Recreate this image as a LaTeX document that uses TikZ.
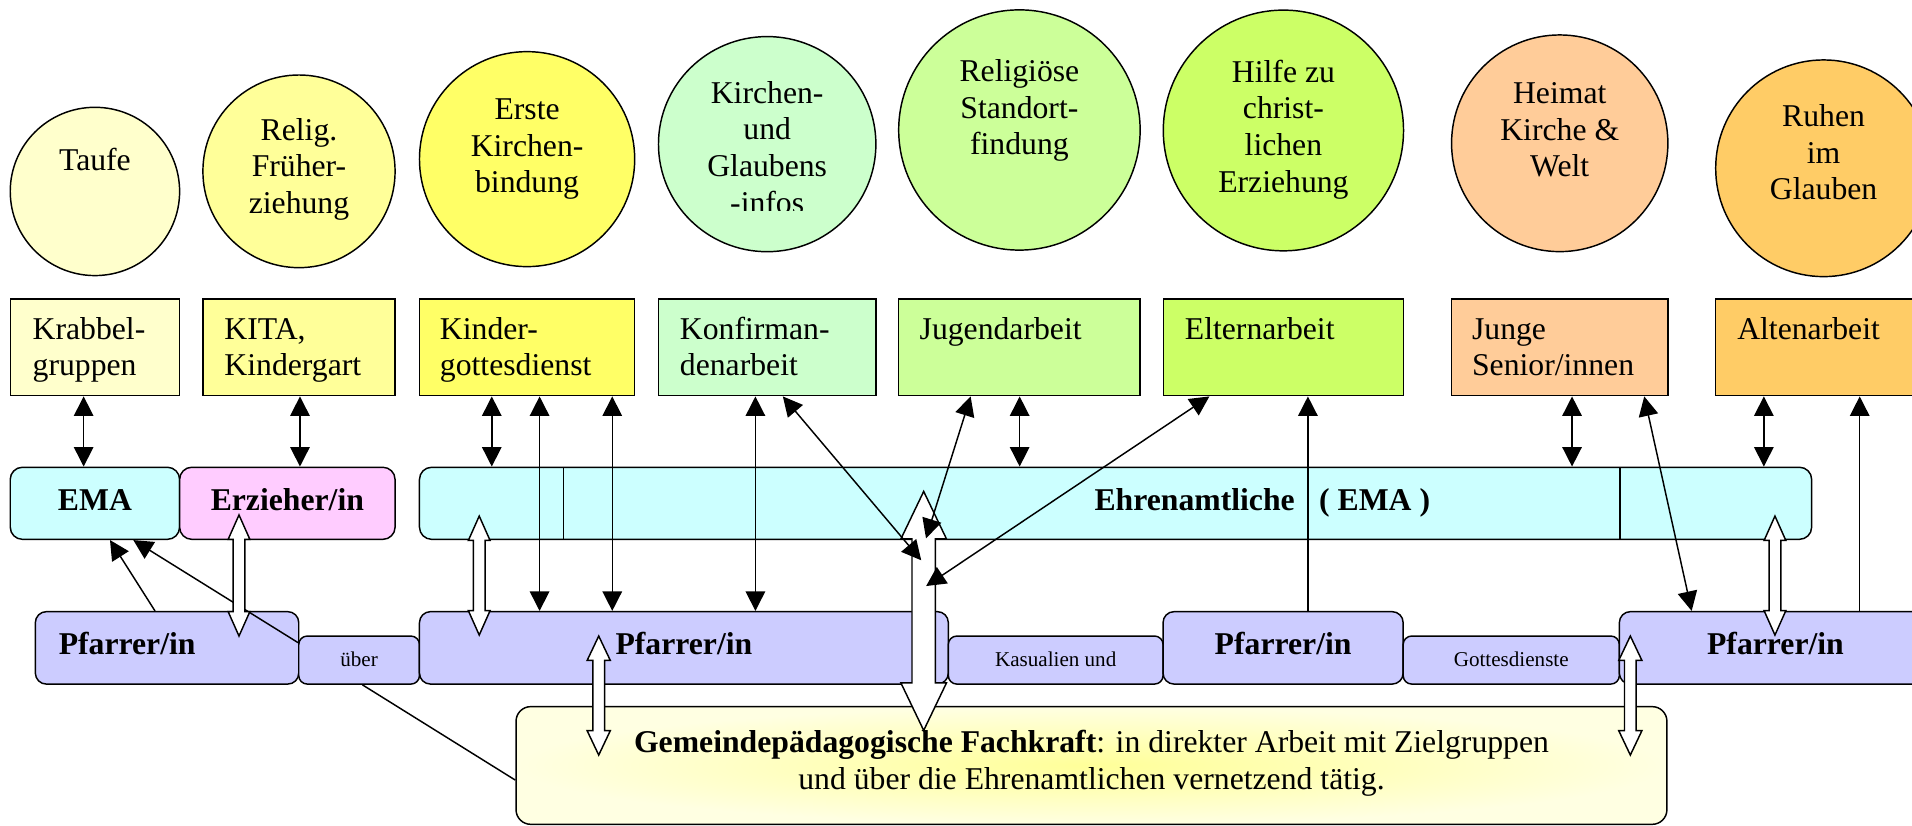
\documentclass[tikz,border=0pt]{standalone}
\usepackage{fontspec}
\setmainfont{Liberation Serif}
\usetikzlibrary{shapes.geometric,arrows.meta,calc}

\definecolor{cA}{HTML}{FFFFCC}
\definecolor{cB}{HTML}{FFFF99}
\definecolor{cC}{HTML}{FFFF66}
\definecolor{cD}{HTML}{CCFFCC}
\definecolor{cE}{HTML}{CCFF99}
\definecolor{cF}{HTML}{CCFF66}
\definecolor{cG}{HTML}{FFCC99}
\definecolor{cH}{HTML}{FFCC66}
\definecolor{cyanbox}{HTML}{CCFFFF}
\definecolor{pinkbox}{HTML}{FFCCFF}
\definecolor{lilabox}{HTML}{CCCCFF}
\definecolor{yelout}{HTML}{FFFFE2}

\newcommand\bigtxt{\fontsize{26}{30}\selectfont}
\newcommand\smalltxt{\fontsize{17.3}{20}\selectfont}
\newcommand\ctr[1]{\parbox[t]{230pt}{\centering\bigtxt #1}}
\newcommand\lft[1]{\parbox[t]{200pt}{\raggedright\bigtxt #1}}
% white double block arrow: x, ytop, ybot, halfshaft, halfhead, headlen
\newcommand\wdblarrow[6]{%
  \draw[blockarrow] (#1,#2) -- ({#1+#5},{#2+#6}) -- ({#1+#4},{#2+#6})
    -- ({#1+#4},{#3-#6}) -- ({#1+#5},{#3-#6}) -- (#1,#3)
    -- ({#1-#5},{#3-#6}) -- ({#1-#4},{#3-#6}) -- ({#1-#4},{#2+#6})
    -- ({#1-#5},{#2+#6}) -- cycle;}

\begin{document}
\begin{tikzpicture}[x=1pt,y=-1pt,line width=1.2pt,
  circ/.style={ellipse,draw,inner sep=0pt},
  rbox/.style={rectangle,draw,inner sep=0pt,minimum height=79.3pt},
  midbox/.style={rectangle,draw,rounded corners=10pt,inner sep=0pt,minimum height=59.1pt},
  pbox/.style={rectangle,draw,fill=lilabox,rounded corners=9pt,inner sep=0pt,minimum height=59.4pt},
  sbox/.style={rectangle,draw,fill=lilabox,rounded corners=7pt,inner sep=0pt,minimum height=39.4pt},
  txt/.style={inner sep=0pt},
  btxt/.style={inner sep=0pt,font=\bigtxt\bfseries},
  stxt/.style={inner sep=0pt,font=\smalltxt,anchor=base},
  tip/.style={Triangle[width=16pt,length=16pt]},
  dbl/.style={{Triangle[width=16pt,length=16pt]}-{Triangle[width=16pt,length=16pt]}},
  sgl/.style={-{Triangle[width=16pt,length=16pt]}},
  plain/.style={-},
  blockarrow/.style={draw,fill=white,line width=1.2pt,line join=miter},
  divider/.style={line width=1.2pt}]

\useasboundingbox (0,0) rectangle (1568,677);
\clip (0,0) rectangle (1568,677);

% ---------- ellipses ----------
\node[circ,fill=cA,minimum width=138.9pt,minimum height=138pt] (eTa) at (77.85,157) {};
\node[circ,fill=cB,minimum width=157.6pt,minimum height=158pt] (eRe) at (245.2,140.5) {};
\node[circ,fill=cC,minimum width=176.5pt,minimum height=176.3pt] (eEr) at (432.25,130.5) {};
\node[circ,fill=cD,minimum width=178.3pt,minimum height=176.4pt] (eKi) at (629.15,118.2) {};
\node[circ,fill=cE,minimum width=198pt,minimum height=197pt] (eRS) at (836,106.6) {};
\node[circ,fill=cF,minimum width=197pt,minimum height=197.4pt] (eHi) at (1052.5,107) {};
\node[circ,fill=cG,minimum width=177.4pt,minimum height=177.7pt] (eHe) at (1279.1,117.5) {};
\node[circ,fill=cH,minimum width=177pt,minimum height=177.7pt] (eRu) at (1495.5,138) {};

\node[txt,anchor=base] (tTa) at (77.85,139.5) {\ctr{Taufe}};
\node[txt,anchor=base] (tRe) at (245.2,115) {\ctr{Relig.\\Früher-\\ziehung}};
\node[txt,anchor=base] (tEr) at (432.25,98) {\ctr{Erste\\Kirchen-\\bindung}};
\begin{scope}
  \clip (540,0) rectangle (720,172.5);
  \node[txt,anchor=base] (tKi) at (629.15,84.7) {\ctr{Kirchen-\\und\\Glaubens\\-infos}};
\end{scope}
\node[txt,anchor=base] (tRS) at (836,67) {\ctr{Religiöse\\Standort-\\findung}};
\node[txt,anchor=base] (tHi) at (1052.5,67.5) {\ctr{Hilfe zu\\christ-\\lichen\\Erziehung}};
\node[txt,anchor=base] (tHe) at (1279.1,85) {\ctr{Heimat\\Kirche \&\\Welt}};
\node[txt,anchor=base] (tRu) at (1495.5,104) {\ctr{Ruhen\\im\\Glauben}};

% ---------- rectangles ----------
\node[rbox,fill=cA,minimum width=138.9pt] (rKr) at (77.85,284.85) {};
\node[rbox,fill=cB,minimum width=157.6pt] (rKi) at (245.2,284.85) {};
\node[rbox,fill=cC,minimum width=176.5pt] (rKg) at (432.25,284.85) {};
\node[rbox,fill=cD,minimum width=178.3pt] (rKo) at (629.15,284.85) {};
\node[rbox,fill=cE,minimum width=198pt] (rJu) at (836,284.85) {};
\node[rbox,fill=cF,minimum width=197pt] (rEl) at (1052.5,284.85) {};
\node[rbox,fill=cG,minimum width=177.4pt] (rJS) at (1279.1,284.85) {};
\node[rbox,fill=cH,minimum width=177pt] (rAl) at (1495.5,284.85) {};

\node[txt,anchor=base west] (tKr) at ($(rKr.north west)+(18.4,33.6)$) {\lft{Krabbel-\\gruppen}};
\node[txt,anchor=base west] (tKT) at ($(rKi.north west)+(17.7,33.6)$) {\lft{KITA,\\Kindergart}};
\node[txt,anchor=base west] (tKg) at ($(rKg.north west)+(16.8,33.6)$) {\lft{Kinder-\\gottesdienst}};
\node[txt,anchor=base west] (tKo) at ($(rKo.north west)+(17.6,33.6)$) {\lft{Konfirman-\\denarbeit}};
\node[txt,anchor=base west] (tJu) at ($(rJu.north west)+(17.2,33.6)$) {\lft{Jugendarbeit}};
\node[txt,anchor=base west] (tEl) at ($(rEl.north west)+(17.7,33.6)$) {\lft{Elternarbeit}};
\node[txt,anchor=base west] (tJS) at ($(rJS.north west)+(16.8,33.6)$) {\lft{Junge\\Senior/innen}};
\node[txt,anchor=base west] (tAl) at ($(rAl.north west)+(17.7,33.6)$) {\lft{Altenarbeit}};

% ---------- middle row ----------
\node[midbox,fill=cyanbox,minimum width=138.9pt] (bEMA) at (77.85,412.75) {};
\node[midbox,fill=pinkbox,minimum width=176.7pt] (bErz) at (235.65,412.75) {};
\node[midbox,fill=cyanbox,minimum width=1141.7pt] (bEhr) at (914.85,412.75) {};
\draw[divider] (462,383.2) -- (462,442.3);
\draw[divider] (1328.4,383.2) -- (1328.4,442.3);
\node[btxt,anchor=base] (tEMA) at (77.85,418.8) {EMA};
\node[btxt,anchor=base] (tErz) at (235.65,418.8) {Erzieher/in};
\node[btxt,anchor=base west] (tEhr) at (897,418.8) {Ehrenamtliche\hspace{20pt}( EMA )};

% ---------- Pfarrer row ----------
\node[pbox,minimum width=216pt] (bP1) at (137,531.3) {};
\node[sbox,minimum width=99pt] (bUe) at (294.5,541.3) {};
\node[pbox,minimum width=433.7pt] (bP2) at (560.85,531.3) {};
\node[sbox,minimum width=176.1pt] (bKa) at (865.75,541.3) {};
\node[pbox,minimum width=196.9pt] (bP3) at (1052.25,531.3) {};
\node[sbox,minimum width=177.3pt] (bGo) at (1239.35,541.3) {};
\node[pbox,minimum width=256pt] (bP4) at (1456,531.3) {};

\node[btxt,anchor=base west] (tP1) at (47.6,536.5) {Pfarrer/in};
\node[btxt,anchor=base] (tP2) at (560.85,536.5) {Pfarrer/in};
\node[btxt,anchor=base] (tP3) at (1052.25,536.5) {Pfarrer/in};
\node[btxt,anchor=base] (tP4) at (1456,536.5) {Pfarrer/in};
\node[stxt] (tUe) at (294.5,546.7) {über};
\node[stxt] (tKa) at (865.75,546.7) {Kasualien und};
\node[stxt] (tGo) at (1239.35,546.7) {Gottesdienste};

% ---------- bottom box ----------
\node[rectangle,draw,rounded corners=12pt,inner color=cB,outer color=yelout,
      minimum width=943.8pt,minimum height=96.5pt,inner sep=0pt] (bYel) at (895.1,627.75) {};
\node[txt,anchor=base] (tYel) at (895.1,617.3)
  {\parbox[t]{900pt}{\centering\bigtxt\textbf{Gemeindepädagogische Fachkraft}: in direkter Arbeit mit Zielgruppen\\
   und über die Ehrenamtlichen vernetzend tätig.}};

% ---------- lines under the white arrows ----------
\draw[sgl] ([yshift=-6pt]bUe.north west) -- ([xshift=31.45pt]bEMA.south);
\draw[sgl] ([xshift=-9.9pt]bP1.north) -- ([xshift=12.35pt]bEMA.south);
\draw[plain] ([xshift=2.7pt]bUe.south) -- ([yshift=-12pt]bYel.west);

% ---------- white block arrows ----------
\wdblarrow{196}{422.3}{521.6}{4.8}{8.9}{20}
\wdblarrow{393}{423.2}{520.8}{4.8}{8.9}{20}
\wdblarrow{491}{521.6}{619.2}{4.8}{9.5}{20}
\wdblarrow{757.5}{403}{599}{9.6}{18.7}{39}
\wdblarrow{1455.6}{423.2}{520.8}{4.8}{8.9}{20}
\wdblarrow{1337}{521.6}{619.2}{4.8}{9.5}{20}

% ---------- black connectors ----------
\coordinate (k1) at ([xshift=-9.25pt]rKr.south);
\coordinate (k2) at ([xshift=0.8pt]rKi.south);
\coordinate (k3) at ([xshift=-28.95pt]rKg.south);
\coordinate (k4) at ([xshift=10.25pt]rKg.south);
\coordinate (k5) at ([xshift=69.85pt]rKg.south);
\coordinate (k6) at ([xshift=-9.65pt]rKo.south);
\coordinate (k7) at ([xshift=12.85pt]rKo.south);
\coordinate (k8) at ([xshift=-40pt]rJu.south);
\coordinate (k9) at ([xshift=0.2pt]rJu.south);
\coordinate (k10) at ([xshift=-60.7pt]rEl.south);
\coordinate (k11) at ([xshift=20.1pt]rEl.south);
\coordinate (k12) at ([xshift=10.1pt]rJS.south);
\coordinate (k13) at ([xshift=69.3pt]rJS.south);
\coordinate (k14) at ([xshift=-49pt]rAl.south);
\coordinate (k15) at ([xshift=29.6pt]rAl.south);
\coordinate (hubK) at (755.5,459.5);
\coordinate (hubJ) at (759.4,441.5);
\coordinate (hubE) at (759.5,480.6);

\draw[dbl] (k1) -- (k1 |- bEMA.north);
\draw[dbl] (k2) -- (k2 |- bErz.north);
\draw[dbl] (k3) -- (k3 |- bEhr.north);
\draw[dbl] (k4) -- (k4 |- bP2.north);
\draw[dbl] (k5) -- (k5 |- bP2.north);
\draw[dbl] (k6) -- (k6 |- bP2.north);
\draw[dbl] (k7) -- (hubK);
\draw[dbl] (k8) -- (hubJ);
\draw[dbl] (k9) -- (k9 |- bEhr.north);
\draw[dbl] (k10) -- (hubE);
\draw[sgl] (k11 |- bP3.north) -- (k11);
\draw[dbl] (k12) -- (k12 |- bEhr.north);
\draw[dbl] (k13) -- ([xshift=-68.7pt]bP4.north);
\draw[dbl] (k14) -- (k14 |- bEhr.north);
\draw[sgl] (k15 |- bP4.north) -- (k15);
\end{tikzpicture}
\end{document}
